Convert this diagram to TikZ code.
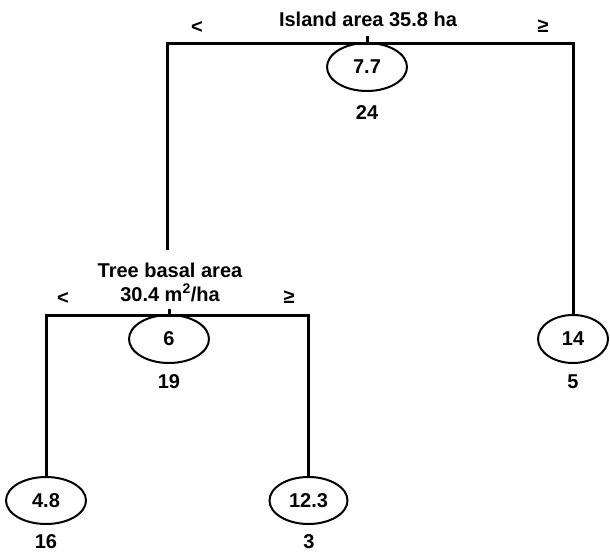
\documentclass[tikz,border=0pt]{standalone}
\usepackage{fontspec}
\setmainfont{Liberation Sans}
\usetikzlibrary{shapes.geometric}
\begin{document}
\begin{tikzpicture}[x=1pt,y=1pt,
  tree/.style={line width=3pt},
  leaf/.style={draw,ellipse,line width=2pt,inner sep=0pt,minimum width=80pt,minimum height=48pt,font=\fontsize{20}{23}\selectfont\bfseries},
  lbl/.style={inner sep=0pt,font=\fontsize{20}{23}\selectfont\bfseries}]
\useasboundingbox (0,0) rectangle (610,-554);
% ellipses
\node[leaf] (n77) at (367,-67) {7.7};
\node[leaf] (n6) at (169,-339) {6};
\node[leaf,minimum width=70pt] (n14) at (573,-339) {14};
\node[leaf,minimum height=47pt] (n48) at (46,-500.5) {4.8};
\node[leaf,minimum width=78pt,minimum height=47pt] (n123) at (308.5,-500.5) {12.3};
% counts
\node[lbl] (c24) at (367,-113) {24};
\node[lbl] (c19) at (169,-382) {19};
\node[lbl] (c5) at (573,-382) {5};
\node[lbl] (c16) at (46,-542) {16};
\node[lbl] (c3) at (309,-542) {3};
% split labels
\node[lbl] (s1) at (368,-19) {Island area 35.8 ha};
\node[lbl] (lt1) at (197,-27) {<};
\node[lbl] (ge1) at (543,-26) {≥};
\node[lbl,align=center] (s2) at (170,-282) {Tree basal area\\[1pt]30.4 m\textsuperscript{2}/ha};
\node[lbl] (lt2) at (63,-298) {<};
\node[lbl] (ge2) at (289,-297) {≥};
% tree lines
\coordinate (tl) at (167,-43);
\coordinate (tr) at (573,-43);
\coordinate (lstub) at (167,-250);
\coordinate (bl) at (46,-315);
\coordinate (br) at (308.5,-315);
\draw[tree] (lstub) -- (tl) -- (tr) -- (n14.north);
\draw[tree] (n48.north) -- (bl) -- (br) -- (n123.north);
\draw[tree] (n77.north) -- ++(0,6);
\draw[tree] (n6.north) -- ++(0,5);
\end{tikzpicture}
\end{document}
